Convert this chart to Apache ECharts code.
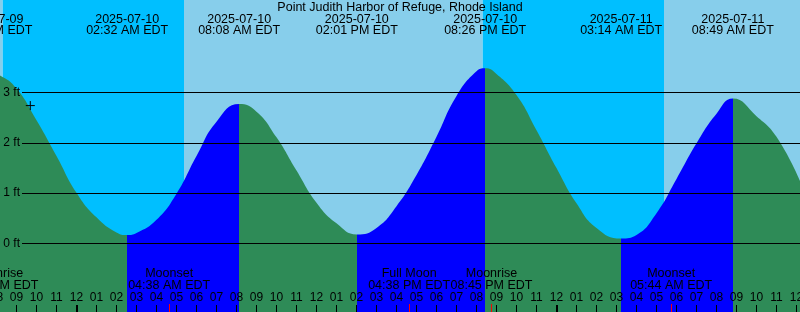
<!DOCTYPE html>
<html><head><meta charset="utf-8">
<script src="https://cdn.jsdelivr.net/npm/echarts@6/dist/echarts.min.js"></script>
<style>html,body{margin:0;padding:0;background:#fff}#c{width:800px;height:312px}</style>
</head><body><div id="c"></div>
<script>
// ---- data (hours are measured from midnight 2025-07-10 EDT) ----
const chartTitle = 'Point Judith Harbor of Refuge, Rhode Island';
const tideHours = [-4.25, -3.825, -3, -2, -1, 0, 1, 2, 2.533, 3, 4, 5, 6, 7, 8.133, 9, 10, 11, 12, 13, 14.017, 15, 16, 17, 18, 19, 20, 20.433, 21, 22, 23, 24, 25, 26, 27.233, 28, 29, 30, 31, 32, 32.817, 34, 35, 36.2];
const tideFeet  = [3.38, 3.34, 3.08, 2.45, 1.74, 1.01, 0.52, 0.22, 0.17, 0.21, 0.47, 0.99, 1.74, 2.42, 2.77, 2.62, 2.11, 1.45, 0.81, 0.40, 0.18, 0.31, 0.74, 1.36, 2.12, 2.93, 3.42, 3.48, 3.37, 2.95, 2.25, 1.50, 0.80, 0.31, 0.10, 0.17, 0.60, 1.28, 1.99, 2.58, 2.88, 2.53, 2.12, 1.22];

const extremeHours = [-4.25, 2.533, 8.133, 14.017, 20.433, 27.233, 32.817];
const extremeKinds = ['H', 'L', 'H', 'L', 'H', 'L', 'H'];
const extremeDates = ['2025-07-09', '2025-07-10', '2025-07-10', '2025-07-10', '2025-07-10', '2025-07-11', '2025-07-11'];
const extremeClock = ['07:45 PM EDT', '02:32 AM EDT', '08:08 AM EDT', '02:01 PM EDT', '08:26 PM EDT', '03:14 AM EDT', '08:49 AM EDT'];

const moonHours = [-3.95, 4.633, 16.633, 20.75, 29.733];
const moonNames = ['Moonrise', 'Moonset', 'Full Moon', 'Moonrise', 'Moonset'];
const moonClock = ['08:03 PM EDT', '04:38 AM EDT', '04:38 PM EDT', '08:45 PM EDT', '05:44 AM EDT'];

const sunHours = [-3.69, 5.375, 20.31, 29.375];
const sunKinds = ['set', 'rise', 'set', 'rise'];

const hourTicks  = [-5, -4, -3, -2, -1, 0, 1, 2, 3, 4, 5, 6, 7, 8, 9, 10, 11, 12, 13, 14, 15, 16, 17, 18, 19, 20, 21, 22, 23, 24, 25, 26, 27, 28, 29, 30, 31, 32, 33, 34, 35, 36, 37];
const hourLabels = ['07', '08', '09', '10', '11', '12', '01', '02', '03', '04', '05', '06', '07', '08', '09', '10', '11', '12', '01', '02', '03', '04', '05', '06', '07', '08', '09', '10', '11', '12', '01', '02', '03', '04', '05', '06', '07', '08', '09', '10', '11', '12', '01'];
const midnightTicks = [0, 24];
const levelTicks = [0, 1, 2, 3];
const nowPoint = [-2.31, 2.74];

// ---- styling ----
const C_NIGHT = '#00BFFF', C_DAY = '#87CEEB', C_EBB = '#2E8B57', C_FLOOD = '#0000FF';
const FONT = 'Liberation Sans';
const X_MIN = -5.325, X_MAX = 37.675;
const Y_MIN = -1.3609, Y_MAX = 4.8377;

// background day/night bands
const bounds = [X_MIN].concat(sunHours, [X_MAX]);
const bands = [];
for (let i = 0; i < bounds.length - 1; i++) {
  const night = i > 0 ? sunKinds[i - 1] === 'set' : sunKinds[0] === 'rise';
  bands.push([{ xAxis: bounds[i], itemStyle: { color: night ? C_NIGHT : C_DAY, opacity: 1 } }, { xAxis: bounds[i + 1] }]);
}

// rising = flood (blue), falling = ebb (green)
const pieces = [];
pieces.push({ lt: extremeHours[0], color: extremeKinds[0] === 'H' ? C_FLOOD : C_EBB });
for (let i = 0; i < extremeHours.length - 1; i++) {
  pieces.push({ gte: extremeHours[i], lt: extremeHours[i + 1], color: extremeKinds[i] === 'L' ? C_FLOOD : C_EBB });
}
pieces.push({ gte: extremeHours[extremeHours.length - 1], color: extremeKinds[extremeKinds.length - 1] === 'L' ? C_FLOOD : C_EBB });

const baseX = { type: 'value', gridIndex: 0, min: X_MIN, max: X_MAX, splitLine: { show: false }, axisLine: { show: false, onZero: false } };

const chart = echarts.init(document.getElementById('c'), null, { renderer: 'canvas' });
chart.setOption({
  animation: false,
  backgroundColor: '#fff',
  title: {
    text: chartTitle, left: 'center', top: 1.5, padding: 0, z: 20,
    textStyle: { fontFamily: FONT, fontSize: 12.5, fontWeight: 'normal', color: '#000' }
  },
  grid: [
    { left: -30, right: -30, top: 0, bottom: 0, containLabel: false, outerBoundsMode: 'none' },
    { left: 22, right: 0, top: 0, bottom: 0, containLabel: false, outerBoundsMode: 'none' }
  ],
  xAxis: [
    Object.assign({}, baseX, {
      position: 'bottom', z: 10,
      axisTick: { show: true, inside: true, length: 7, customValues: hourTicks, lineStyle: { color: '#000', width: 1 } },
      axisLabel: {
        show: true, inside: true, margin: 8.5, customValues: hourTicks, color: '#000', fontFamily: FONT, fontSize: 12,
        formatter: v => hourLabels[hourTicks.indexOf(Math.round(v))]
      }
    }),
    Object.assign({}, baseX, {
      position: 'bottom', z: 10,
      axisTick: { show: true, inside: true, length: 7, customValues: midnightTicks, lineStyle: { color: '#000', width: 2 } },
      axisLabel: { show: false }
    }),
    Object.assign({}, baseX, {
      position: 'bottom', z: 11,
      axisTick: { show: true, inside: true, length: 8, customValues: moonHours, lineStyle: { color: '#ff0000', width: 1 } },
      axisLabel: {
        show: true, inside: true, margin: 21, customValues: moonHours, color: '#000', fontFamily: FONT, fontSize: 12.5, lineHeight: 11.5,
        formatter: v => { const i = moonHours.indexOf(v); return moonNames[i] + '\n' + moonClock[i]; }
      }
    }),
    Object.assign({}, baseX, {
      position: 'top', z: 10,
      axisTick: { show: false },
      axisLabel: {
        show: true, inside: true, margin: 13.75, customValues: extremeHours, color: '#000', fontFamily: FONT, fontSize: 12.5, lineHeight: 11.5,
        formatter: v => { const i = extremeHours.indexOf(v); return extremeDates[i] + '\n' + extremeClock[i]; }
      }
    }),
    { type: 'value', gridIndex: 1, min: 0, max: 1, show: false, axisLine: { onZero: false } }
  ],
  yAxis: [
    { type: 'value', gridIndex: 0, min: Y_MIN, max: Y_MAX, show: false, axisLine: { onZero: false } },
    { type: 'value', gridIndex: 1, min: Y_MIN, max: Y_MAX, show: false, axisLine: { onZero: false } }
  ],
  visualMap: {
    type: 'piecewise', show: false, seriesIndex: 1, dimension: 0, pieces: pieces
  },
  series: [
    {
      type: 'line', xAxisIndex: 0, yAxisIndex: 0, data: [], z: 0, silent: true,
      markArea: { silent: true, data: bands }
    },
    {
      type: 'line', xAxisIndex: 0, yAxisIndex: 0, z: 2, silent: true,
      data: tideHours.map((h, i) => [h, tideFeet[i]]),
      smooth: 0.5, showSymbol: false, symbol: 'none',
      lineStyle: { width: 0, opacity: 0 },
      areaStyle: { opacity: 1, origin: 'start' }
    },
    {
      type: 'line', xAxisIndex: 4, yAxisIndex: 1, data: [], z: 5, silent: true,
      markLine: {
        silent: true, symbol: ['none', 'none'],
        lineStyle: { color: '#000', width: 1, type: 'solid', opacity: 1 },
        label: { show: true, position: 'start', distance: 2, color: '#000', fontFamily: FONT, fontSize: 12, formatter: p => p.value + ' ft' },
        emphasis: { disabled: true },
        data: levelTicks.map(v => ({ yAxis: v }))
      }
    },
    {
      type: 'scatter', xAxisIndex: 0, yAxisIndex: 0, z: 6, silent: true,
      data: [nowPoint],
      symbol: 'path://M0,4.5H9M4.5,0V9', symbolSize: 9,
      itemStyle: { color: 'rgba(0,0,0,0)', borderColor: '#000', borderWidth: 1, opacity: 1 }
    }
  ]
});
</script>
</body></html>
